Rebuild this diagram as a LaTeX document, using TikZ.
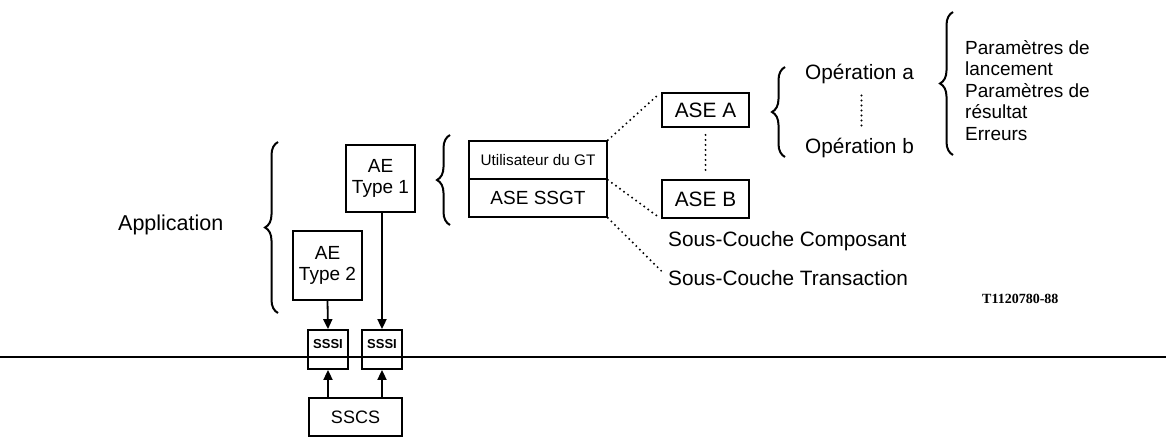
\documentclass[tikz,border=0pt]{standalone}
\usepackage{fontspec}
\setmainfont{Liberation Sans}
\newfontfamily\refserif{Liberation Serif}
\usetikzlibrary{positioning,arrows.meta,calc,decorations.pathreplacing}

\begin{document}
\begin{tikzpicture}[x=1pt, y=-1pt,
    every node/.style={font=\fontsize{20.8}{21.5}\selectfont, inner sep=0pt},
    box/.style={draw, line width=1.8pt, inner sep=0pt, align=center},
    lbl/.style={anchor=base west},
    link/.style={line width=1.8pt, -{Triangle[length=10pt,width=9pt]}},
    dots/.style={line width=2.2pt, line cap=round, dash pattern=on 0pt off 5pt},
    brc/.style={line width=2pt, decorate, decoration={brace, amplitude=13pt}},
    small/.style={font=\fontsize{19}{21}\selectfont}
  ]
  \useasboundingbox (0,0) rectangle (1166,437);

  % ---- ligne de separation ------------------------------------------------
  \coordinate (lineL) at (0,357);
  \coordinate (lineR) at (1166,357);
  \draw[line width=1.1pt] (lineL) -- (lineR);

  % ---- application et entites AE ----------------------------------------
  \node[lbl, font=\fontsize{21.5}{22}\selectfont] (app) at (118,230) {Application};
  \draw[brc] (278,313) -- (278,142);

  \node[box, small, minimum width=69pt, minimum height=67pt] (ae1) at (380.5,178.5) {AE\\Type 1};
  \node[box, small, minimum width=69pt, minimum height=69pt] (ae2) at (327.5,265.5) {AE\\Type 2};

  \node[box, font=\bfseries\fontsize{13}{14}\selectfont, minimum width=40pt, minimum height=39pt,
        text depth=12pt] (sssiL) at (328,349.5) {SSSI};
  \node[box, font=\bfseries\fontsize{13}{14}\selectfont, minimum width=40pt, minimum height=39pt,
        text depth=12pt] (sssiR) at (382,349.5) {SSSI};
  \node[box, font=\fontsize{18}{20}\selectfont, minimum width=93pt, minimum height=38pt] (sscs) at (355.5,417) {SSCS};

  \draw[link] (ae2.south) -- (sssiL.north);
  \draw[link] (ae1.south -| sssiR.north) -- (sssiR.north);
  \draw[link] (sscs.north -| sssiL.south) -- (sssiL.south);
  \draw[link] (sscs.north -| sssiR.south) -- (sssiR.south);

  % ---- contenu de l'AE Type 1 -------------------------------------------
  \draw[brc] (450,225) -- (450,135);
  \node[box, font=\fontsize{15.3}{16}\selectfont, minimum width=138pt, minimum height=38pt] (utgt) at (538,160) {Utilisateur du GT};
  \node[box, small, minimum width=138pt, minimum height=38pt] (ssgt) at (538,198) {ASE SSGT};

  \node[box, minimum width=87pt, minimum height=34pt] (asea) at (705.5,110) {ASE A};
  \node[box, minimum width=87pt, minimum height=38pt] (aseb) at (705.5,199) {ASE B};
  \node[lbl] (scomp) at (668,246) {Sous-Couche Composant};
  \node[lbl] (strans) at (668,285) {Sous-Couche Transaction};

  \draw[dots, shorten >=5pt] (utgt.north east) -- (asea.north west);
  \draw[dots, shorten >=5pt] (utgt.south east) -- (aseb.south west);
  \draw[dots, shorten >=8pt] (ssgt.south east) -- (strans.west);
  \draw[dots, shorten <=7pt, shorten >=6pt] (asea.south) -- (aseb.north);

  % ---- operations et parametres -----------------------------------------
  \draw[brc] (785,157) -- (785,67);
  \node[lbl] (opa) at (805,79) {Opération a};
  \node[lbl] (opb) at (805,153) {Opération b};
  \draw[dots, shorten <=12pt, shorten >=11pt] ([xshift=2pt]opa.south) -- ([xshift=2pt]opb.north);

  \draw[brc] (953,155) -- (953,12);
  \node[lbl, small] (par1) at (965,54) {Paramètres de};
  \node[lbl, small] (par2) at (965,75.5) {lancement};
  \node[lbl, small] (par3) at (965,97) {Paramètres de};
  \node[lbl, small] (par4) at (965,118.5) {résultat};
  \node[lbl, small] (par5) at (965,140) {Erreurs};

  \node[lbl, font=\refserif\bfseries\fontsize{14}{15}\selectfont] (refnum) at (982,303) {T1120780-88};
\end{tikzpicture}
\end{document}
